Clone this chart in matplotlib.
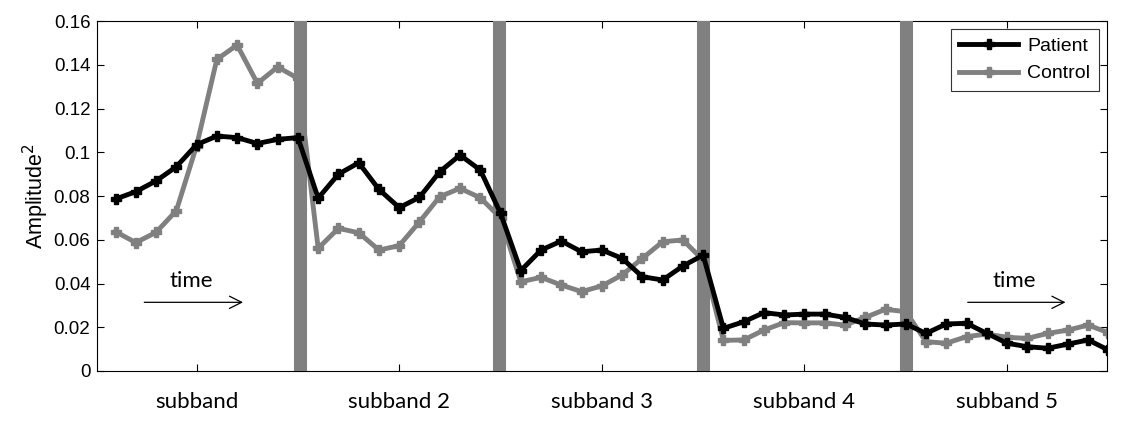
import matplotlib

matplotlib.use("Agg")
import matplotlib.pyplot as plt
import numpy as np

# values, 10 samples per subband
patient = [
    0.0786, 0.0820, 0.0869, 0.0934, 0.1035, 0.1074, 0.1067, 0.1040, 0.1059, 0.1067,
    0.0790, 0.0900, 0.0952, 0.0830, 0.0747, 0.0794, 0.0911, 0.0987, 0.0919, 0.0721,
    0.0459, 0.0553, 0.0594, 0.0545, 0.0553, 0.0515, 0.0431, 0.0416, 0.0480, 0.0530,
    0.0195, 0.0225, 0.0267, 0.0256, 0.0260, 0.0260, 0.0245, 0.0215, 0.0210, 0.0215,
    0.0172, 0.0215, 0.0218, 0.0172, 0.0127, 0.0111, 0.0104, 0.0123, 0.0142, 0.0096,
]
control = [
    0.0637, 0.0587, 0.0634, 0.0733, 0.1030, 0.1425, 0.1490, 0.1315, 0.1390, 0.1338,
    0.0561, 0.0652, 0.0632, 0.0553, 0.0573, 0.0682, 0.0797, 0.0835, 0.0792, 0.0700,
    0.0408, 0.0428, 0.0393, 0.0363, 0.0389, 0.0439, 0.0515, 0.0591, 0.0599, 0.0507,
    0.0140, 0.0142, 0.0187, 0.0221, 0.0220, 0.0220, 0.0210, 0.0245, 0.0282, 0.0271,
    0.0134, 0.0127, 0.0157, 0.0169, 0.0154, 0.0149, 0.0172, 0.0187, 0.0210, 0.0175,
]
subband_labels = ["subband", "subband 2", "subband 3", "subband 4", "subband 5"]
subband_centers = [5, 15, 25, 35, 45]
separators = [10.1, 19.9, 30.0, 40.0]

GRAY = "#808080"

plt.rcParams["font.family"] = ["Liberation Sans", "DejaVu Sans"]

x = np.arange(1, len(patient) + 1)

fig = plt.figure(figsize=(11.29, 4.29), dpi=100)
ax = fig.add_axes([0.0862, 0.1352, 0.8943, 0.8158])

for sx in separators:
    ax.axvline(sx, color=GRAY, lw=9.4, zorder=3)

ax.plot(x, patient, color="black", lw=3.5, marker="P", markersize=6.5,
        label="Patient", zorder=4)
ax.plot(x, control, color=GRAY, lw=3.5, marker="P", markersize=6.5,
        label="Control", zorder=2)

ax.set_xlim(0.1, 49.93)
ax.set_ylim(0, 0.16)
ax.set_yticks(np.arange(0, 0.161, 0.02))
ax.set_yticklabels(["0", "0.02", "0.04", "0.06", "0.08", "0.1", "0.12", "0.14", "0.16"],
                   fontsize=13.5)
ax.set_xticks(subband_centers)
ax.set_xticklabels(subband_labels, fontfamily="Lato", fontsize=16)
ax.tick_params(direction="in", top=True, right=True, length=5, width=0.8)
ax.tick_params(axis="x", pad=15)
ax.tick_params(axis="y", pad=5)
ax.set_ylabel("Amplitude$^2$", fontsize=15.5, labelpad=2)

# "time" arrows in first and last subband
for x0, x1 in [(2.28, 7.43), (42.92, 48.02)]:
    ax.annotate("", xy=(x1, 0.0314), xytext=(x0, 0.0314),
                arrowprops=dict(arrowstyle="->", color="black", lw=0.9,
                                mutation_scale=22))
    ax.text((x0 + x1) / 2 - 0.1, 0.0410, "time", ha="center", va="center",
            fontfamily="Lato", fontsize=16)

leg = ax.legend(loc="upper right", prop={"family": "Liberation Sans", "size": 14},
                frameon=True, fancybox=False, edgecolor="black",
                borderaxespad=0.4, handlelength=3.0, borderpad=0.45,
                labelspacing=0.5, handletextpad=0.5)
leg.get_frame().set_linewidth(0.8)

fig.savefig("out.png", dpi=100)
